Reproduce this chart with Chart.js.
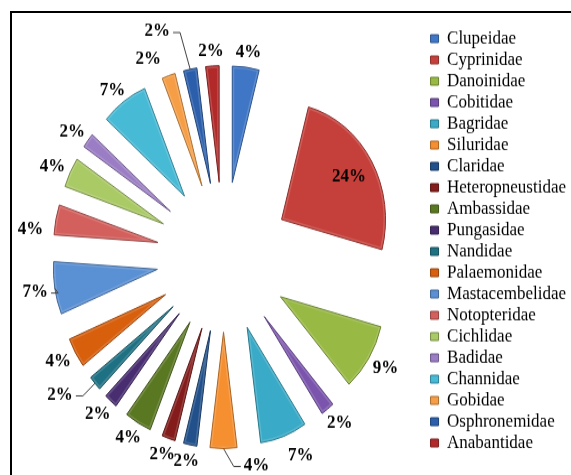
<!DOCTYPE html>
<html>
<head>
<meta charset="utf-8">
<script src="https://cdn.jsdelivr.net/npm/chart.js@4.4.1/dist/chart.umd.min.js"></script>
<style>
  html, body { margin: 0; padding: 0; background: #fff; }
  #wrap { position: relative; width: 571px; height: 475px; overflow: hidden; background: #fff; }
  #c { position: absolute; left: 0; top: 0; width: 600px; height: 440px; transform: scaleY(1.12); transform-origin: 0 0; }
  #frame { position: absolute; left: 10px; top: 11px; width: 620px; height: 520px; border-left: 2px solid #000; border-top: 2px solid #000; box-sizing: border-box; pointer-events: none; }
</style>
</head>
<body>
<div id="wrap">
  <canvas id="c" width="600" height="440"></canvas>
  <div id="frame"></div>
</div>
<script>
// ---- data ----
const families = [
  "Clupeidae", "Cyprinidae", "Danoinidae", "Cobitidae", "Bagridae",
  "Siluridae", "Claridae", "Heteropneustidae", "Ambassidae", "Pungasidae",
  "Nandidae", "Palaemonidae", "Mastacembelidae", "Notopteridae", "Cichlidae",
  "Badidae", "Channidae", "Gobidae", "Osphronemidae", "Anabantidae"
];
const percentages = [4, 24, 9, 2, 7, 4, 2, 2, 4, 2, 2, 4, 7, 4, 4, 2, 7, 2, 2, 2];

// ---- styles ----
const sliceColors = [
  "#3F76C6", "#C6403B", "#98BA44", "#7B55AD", "#39ABC8",
  "#F58F30", "#21508A", "#841C1B", "#5A7822", "#482D70",
  "#1D7183", "#D85F0C", "#5A90D4", "#D4605D", "#AACA66",
  "#9A7DC4", "#47BAD6", "#F59E46", "#2B5FAC", "#B12A29"
];
function shade(hex, f) {
  const n = parseInt(hex.slice(1), 16);
  let r = (n >> 16) & 255, g = (n >> 8) & 255, b = n & 255;
  r = Math.round(r * f); g = Math.round(g * f); b = Math.round(b * f);
  return `rgb(${Math.min(255,r)},${Math.min(255,g)},${Math.min(255,b)})`;
}
const borderColors = sliceColors.map(c => shade(c, 0.7));

// label placement tweaks (style only), in canvas px
const labelNudge = {
  "Osphronemidae": [-29, -21],
  "Gobidae": [-14, -3],
  "Siluridae": [33, 0],
  "Nandidae": [-20, 0],
  "Notopteridae": [-6, 10],
  "Bagridae": [10, 3]
};
const leaderLabels = ["Osphronemidae", "Siluridae", "Mastacembelidae", "Nandidae"];
const insideLabels = ["Cyprinidae"];

const explodePlugin = {
  id: 'explode',
  beforeDatasetDraw(chart, args, opts) {
    const ctx = chart.ctx;
    const d = opts.distance;
    args.meta.data.forEach((arc, i) => {
      const p = arc.getProps(['x', 'y', 'startAngle', 'endAngle', 'outerRadius'], true);
      const mid = (p.startAngle + p.endAngle) / 2;
      const tx = p.x + Math.cos(mid) * d, ty = p.y + Math.sin(mid) * d;
      const path = () => {
        ctx.beginPath();
        ctx.moveTo(tx, ty);
        ctx.arc(tx, ty, p.outerRadius, p.startAngle, p.endAngle);
        ctx.closePath();
      };
      ctx.save();
      path();
      ctx.fillStyle = arc.options.backgroundColor;
      ctx.fill();
      // subtle bevel-like shading
      ctx.save();
      path();
      ctx.clip();
      path();
      ctx.lineWidth = 4;
      ctx.strokeStyle = 'rgba(255,255,255,0.16)';
      ctx.stroke();
      ctx.restore();
      path();
      ctx.lineWidth = 1;
      ctx.strokeStyle = arc.options.borderColor;
      ctx.stroke();
      ctx.restore();
    });
    return false;
  }
};

const labelPlugin = {
  id: 'pctLabels',
  afterDatasetsDraw(chart, args, opts) {
    const ctx = chart.ctx;
    const meta = chart.getDatasetMeta(0);
    const d = chart.options.plugins.explode.distance;
    const ds = chart.data.datasets[0];
    ctx.save();
    ctx.font = 'bold 17px "Liberation Serif", "Times New Roman", serif';
    ctx.textAlign = 'center';
    ctx.textBaseline = 'middle';
    meta.data.forEach((arc, i) => {
      const p = arc.getProps(['x', 'y', 'startAngle', 'endAngle', 'outerRadius'], true);
      const mid = (p.startAngle + p.endAngle) / 2;
      const c = Math.cos(mid), s = Math.sin(mid);
      const name = chart.data.labels[i];
      const text = ds.data[i] + '%';
      const w = ctx.measureText(text).width;
      let lx, ly;
      if (insideLabels.includes(name)) {
        const r = d + p.outerRadius * 0.75;
        lx = p.x + c * r; ly = p.y + s * r;
      } else {
        const r = d + p.outerRadius + opts.gap;
        lx = p.x + c * r + c * (w / 2 + 2);
        ly = p.y + s * r + s * 9;
      }
      const n = labelNudge[name];
      if (n) { lx += n[0]; ly += n[1]; }
      ctx.fillStyle = '#000';
      ctx.fillText(text, lx, ly + 1);
      if (leaderLabels.includes(name)) {
        const ax = p.x + c * (d + p.outerRadius), ay = p.y + s * (d + p.outerRadius);
        const side = ax > lx ? 1 : -1;
        const ex = lx + side * (w / 2 + 3);
        const kx = ex + side * 7;
        ctx.beginPath();
        ctx.moveTo(ex, ly + 2);
        ctx.lineTo(kx, ly + 2);
        ctx.lineTo(ax, ay);
        ctx.lineWidth = 1;
        ctx.strokeStyle = '#404040';
        ctx.stroke();
      }
    });
    ctx.restore();
  }
};

new Chart(document.getElementById('c'), {
  type: 'pie',
  data: {
    labels: families,
    datasets: [{
      data: percentages,
      backgroundColor: sliceColors,
      borderColor: borderColors,
      borderWidth: 1,
      radius: 104,
      hoverOffset: 0,
      clip: false
    }]
  },
  options: {
    responsive: false,
    animation: false,
    devicePixelRatio: 1,
    layout: { padding: { left: 18.5, right: 24, top: 24, bottom: 5 } },
    plugins: {
      explode: { distance: 67 },
      pctLabels: { gap: 5 },
      tooltip: { enabled: false },
      legend: {
        position: 'right',
        align: 'start',
        labels: {
          boxWidth: 8,
          boxHeight: 7,
          padding: 2,
          color: '#000',
          font: { family: '"Liberation Serif", "Times New Roman", serif', size: 17 }
        }
      }
    }
  },
  plugins: [explodePlugin, labelPlugin]
});
</script>
</body>
</html>
